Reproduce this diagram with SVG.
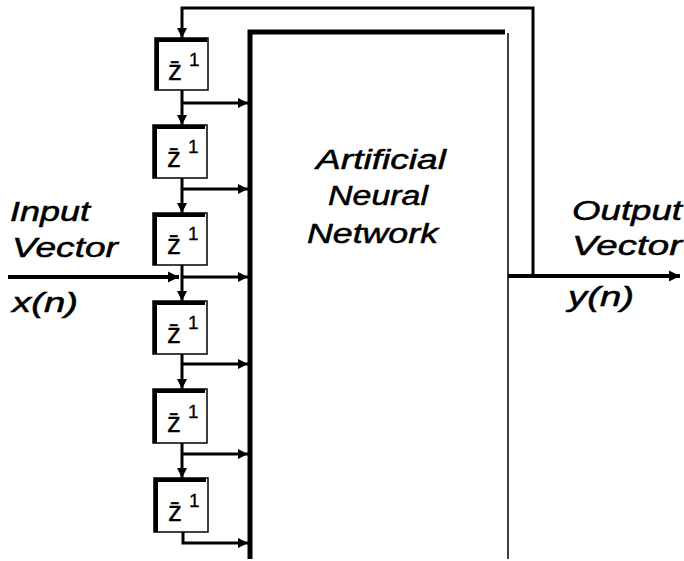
<svg xmlns="http://www.w3.org/2000/svg" width="684" height="561" viewBox="0 0 684 561">
<defs>
<style>
.lbl{font-family:"Liberation Sans",Arial,sans-serif;font-style:italic;font-size:27px;fill:#000;stroke:#000;stroke-width:0.5}
.zt{font-family:"Liberation Sans","DejaVu Sans",Arial,sans-serif;font-size:28px;fill:#000;stroke:#000;stroke-width:0.3}
.box{fill:#fff;stroke:#000;stroke-width:1.5}
.shade{fill:none;stroke:#000;stroke-width:4}
.wire{fill:none;stroke:#000;stroke-width:3}
.thick{fill:none;stroke:#000;stroke-width:4}
</style>
<marker id="ah" viewBox="0 0 10 10" refX="10" refY="5" markerWidth="3.4" markerHeight="3.4" markerUnits="strokeWidth" orient="auto">
<path d="M0,0 L10,5 L0,10 z" fill="#000"/>
</marker>
<marker id="ahs" viewBox="0 0 10 10" refX="10" refY="5" markerWidth="2.8" markerHeight="2.8" markerUnits="strokeWidth" orient="auto">
<path d="M0,0 L10,5 L0,10 z" fill="#000"/>
</marker>
</defs>
<rect width="684" height="561" fill="#fff"/>

<g id="ann">
<path d="M250,559 V32 H505" fill="none" stroke="#000" stroke-width="5"/>
<path d="M508,33 V559" fill="none" stroke="#000" stroke-width="1.5"/>
<text class="lbl" x="316" y="169" textLength="130" lengthAdjust="spacingAndGlyphs">Artificial</text>
<text class="lbl" x="328" y="205" textLength="100" lengthAdjust="spacingAndGlyphs">Neural</text>
<text class="lbl" x="307" y="243" textLength="131" lengthAdjust="spacingAndGlyphs">Network</text>
</g>

<g id="delay1">
<rect class="box" x="155" y="38" width="53" height="52"/>
<path class="shade" d="M157,90 V40 H207"/>
<text class="zt" x="168" y="80">z̄<tspan dx="7" dy="-14" font-size="19">1</tspan></text>
</g>
<g id="delay2">
<rect class="box" x="153" y="125" width="54" height="53"/>
<path class="shade" d="M155,178 V127 H205"/>
<text class="zt" x="167" y="167">z̄<tspan dx="7" dy="-14" font-size="19">1</tspan></text>
</g>
<g id="delay3">
<rect class="box" x="153" y="213" width="54" height="52"/>
<path class="shade" d="M155,265 V215 H205"/>
<text class="zt" x="167" y="254">z̄<tspan dx="7" dy="-14" font-size="19">1</tspan></text>
</g>
<g id="delay4">
<rect class="box" x="153" y="301" width="54" height="53"/>
<path class="shade" d="M155,354 V303 H205"/>
<text class="zt" x="167" y="343">z̄<tspan dx="7" dy="-14" font-size="19">1</tspan></text>
</g>
<g id="delay5">
<rect class="box" x="153" y="389" width="54" height="54"/>
<path class="shade" d="M155,443 V391 H205"/>
<text class="zt" x="167" y="432">z̄<tspan dx="7" dy="-14" font-size="19">1</tspan></text>
</g>
<g id="delay6">
<rect class="box" x="154" y="478" width="54" height="54"/>
<path class="shade" d="M156,532 V480 H206"/>
<text class="zt" x="168" y="521">z̄<tspan dx="7" dy="-14" font-size="19">1</tspan></text>
</g>

<g id="input-label">
<text class="lbl" x="10" y="221" textLength="80" lengthAdjust="spacingAndGlyphs">Input</text>
<text class="lbl" x="12" y="257" textLength="106" lengthAdjust="spacingAndGlyphs">Vector</text>
<text class="lbl" x="12" y="312" textLength="66" lengthAdjust="spacingAndGlyphs">x(n)</text>
</g>
<g id="output-label">
<text class="lbl" x="572" y="220" textLength="110" lengthAdjust="spacingAndGlyphs">Output</text>
<text class="lbl" x="572" y="255" textLength="110" lengthAdjust="spacingAndGlyphs">Vector</text>
<text class="lbl" x="568" y="306" textLength="66" lengthAdjust="spacingAndGlyphs">y(n)</text>
</g>

<g id="connectors">
<path class="thick" d="M8,277 H179" marker-end="url(#ahs)"/>
<path class="thick" d="M508,276 H680" marker-end="url(#ahs)"/>
<path class="wire" d="M533,276 V8 H182 V38" marker-end="url(#ah)"/>
<path class="wire" d="M182,90 V125" marker-end="url(#ah)"/>
<path class="wire" d="M182,178 V213" marker-end="url(#ah)"/>
<path class="wire" d="M182,265 V301" marker-end="url(#ah)"/>
<path class="wire" d="M182,354 V389" marker-end="url(#ah)"/>
<path class="wire" d="M182,443 V478" marker-end="url(#ah)"/>
<path class="wire" d="M182,103 H248" marker-end="url(#ah)"/>
<path class="wire" d="M182,189 H248" marker-end="url(#ah)"/>
<path class="wire" d="M182,277 H248" marker-end="url(#ah)"/>
<path class="wire" d="M182,364 H248" marker-end="url(#ah)"/>
<path class="wire" d="M182,454 H248" marker-end="url(#ah)"/>
<path class="wire" d="M183,532 V543 H248" marker-end="url(#ah)"/>
</g>
</svg>
